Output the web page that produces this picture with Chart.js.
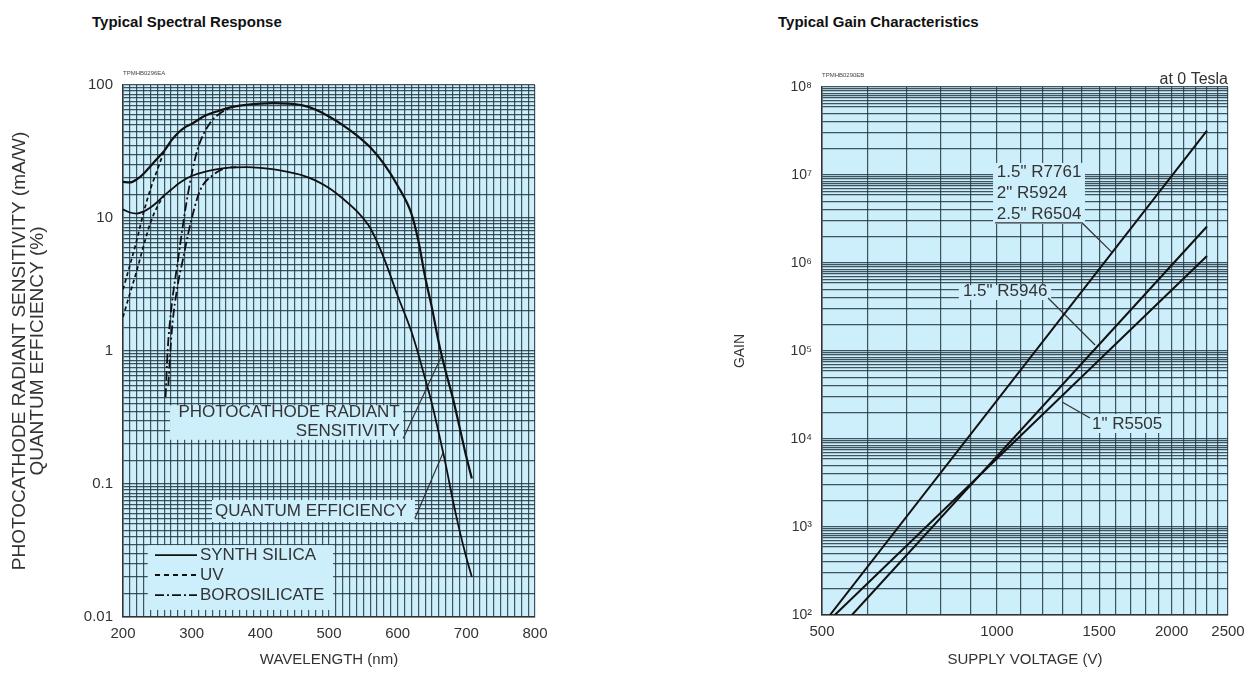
<!DOCTYPE html>
<html>
<head>
<meta charset="utf-8">
<script src="https://cdn.jsdelivr.net/npm/chart.js@4.4.1/dist/chart.umd.min.js"></script>
<style>
  html, body { margin: 0; padding: 0; background: #fff; }
  #wrap { position: relative; width: 1260px; height: 696px; font-family: "Liberation Sans", Arial, sans-serif; }
  .title { position: absolute; top: 13px; font-weight: bold; font-size: 15px; color: #111; }
  canvas { position: absolute; top: 0; }
</style>
</head>
<body>
<div id="wrap">
  <div class="title" style="left:92px">Typical Spectral Response</div>
  <div class="title" style="left:778px">Typical Gain Characteristics</div>
  <canvas id="spectral" width="630" height="696" style="left:0"></canvas>
  <canvas id="gain" width="630" height="696" style="left:630px"></canvas>
</div>
<script>
// ---- Typical Spectral Response (wavelength in nm) ----
const silicaNm  = [200,210,220,230,240,250,260,270,280,290,300,320,340,360,380,400,420,440,460,480,500,520,540,560,580,600,620,630,640,650,660,670,680,690,700,708];
const silicaRad = [18.7,18.5,19.5,21.5,24.5,28,32,38,43.5,48,51,59,64,68.5,71,72.5,73,72.5,70.5,65.5,58,50,42,34,25.5,17.5,10.8,6.8,3.6,2.1,1.15,0.7,0.45,0.27,0.16,0.11];
const silicaQE  = [11.6,11.0,10.8,11.2,12.0,13.2,14.8,16.3,18.0,19.5,20.7,22.3,23.4,24.0,24.1,23.8,23.2,22.2,21.0,19.2,16.8,14.0,11.3,8.4,5.0,2.6,1.4,0.95,0.62,0.4,0.24,0.14,0.077,0.045,0.028,0.02];

const uvNm  = [200,210,220,230,240,250,260];
const uvRad = [2.9,4.4,6.8,11,16.5,23,32];
const uvQE  = [1.8,2.7,4.0,6.2,9.2,12.2,14.8];

const boroRadNm = [262,265,270,280,293,308,327,341,355];
const boroRad   = [0.45,1.0,2.0,4.8,13.6,32,52,61,67];
const boroQENm  = [266,271,280,287,297,312,331,351,365];
const boroQE    = [0.55,1.4,3.2,4.8,8.5,16,21,23.8,24.1];

const sensTicks  = [0.01, 0.1, 1, 10, 100];
const sensLabels = ['0.01', '0.1', '1', '10', '100'];
const waveLabels = [200, 300, 400, 500, 600, 700, 800];

// ---- Typical Gain Characteristics (supply voltage in V) ----
const r7761V = [516, 2300];
const r7761G = [100, 3.2e7];
const r5946V = [563, 2300];
const r5946G = [100, 2.6e6];
const r5505V = [526, 2300];
const r5505G = [100, 1.2e6];

const gainTicks  = [1e2, 1e3, 1e4, 1e5, 1e6, 1e7, 1e8];
const gainLabels = ['10²', '10³', '10⁴', '10⁵', '10⁶', '10⁷', '10⁸'];
const voltLabels = [500, 1000, 1500, 2000, 2500];

Chart.defaults.font.family = '"Liberation Sans", Arial, sans-serif';
Chart.defaults.color = '#333';

const INK = '#111';
const GRID = 'rgba(35,55,65,0.85)';
const PAPER = '#cdeefb';

function pairs(xs, ys) {
    return xs.map((x, i) => ({x: x, y: ys[i]}));
}

// log paper lines: each multiplier in every decade between lo and hi
function logGrid(lo, hi, steps) {
    let out = [];
    for (let e = Math.round(Math.log10(lo)); e < Math.round(Math.log10(hi)); e++) {
        steps.forEach(m => out.push(m * Math.pow(10, e)));
    }
    out.push(hi);
    return out;
}

function rangeGrid(lo, hi, step) {
    let out = [];
    for (let v = lo; v <= hi; v += step) out.push(v);
    return out;
}

function labelFor(v, vals, labels) {
    for (let i = 0; i < vals.length; i++) {
        if (Math.abs(v - vals[i]) / vals[i] < 1e-6) return labels[i];
    }
    return '';
}

const plotBg = {
    id: 'plotBg',
    beforeDraw(chart, args, opts) {
        const {ctx, chartArea: a} = chart;
        ctx.save();
        ctx.fillStyle = opts.color;
        ctx.fillRect(a.left, a.top, a.right - a.left, a.bottom - a.top);
        ctx.restore();
    }
};

// text labels with a light box and leader line, placed in data units
const callouts = {
    id: 'callouts',
    beforeDatasetsDraw(chart, args, opts) {
        const {ctx} = chart;
        const sx = chart.scales.x, sy = chart.scales.y;
        ctx.save();
        ctx.font = opts.font;
        (opts.items || []).forEach(it => {
            const x0 = sx.getPixelForValue(it.box[0]), x1 = sx.getPixelForValue(it.box[1]);
            const y0 = sy.getPixelForValue(it.box[2]), y1 = sy.getPixelForValue(it.box[3]);
            ctx.fillStyle = opts.fill;
            ctx.fillRect(x0, y0, x1 - x0, y1 - y0);
            if (it.path) {
                ctx.beginPath();
                it.path.forEach((p, i) => {
                    const px = sx.getPixelForValue(p[0]), py = sy.getPixelForValue(p[1]);
                    if (i === 0) ctx.moveTo(px, py); else ctx.lineTo(px, py);
                });
                ctx.strokeStyle = '#333';
                ctx.lineWidth = 1.2;
                ctx.stroke();
            }
            ctx.fillStyle = '#333';
            ctx.textAlign = it.align || 'left';
            ctx.textBaseline = 'middle';
            it.lines.forEach((t, i) => {
                ctx.fillText(t, sx.getPixelForValue(it.at[0]), sy.getPixelForValue(it.at[1][i]));
            });
        });
        ctx.restore();
    }
};

// line-style key drawn inside the plot
const keyBox = {
    id: 'keyBox',
    beforeDatasetsDraw(chart, args, opts) {
        if (!opts.rows) return;
        const {ctx} = chart;
        const sx = chart.scales.x, sy = chart.scales.y;
        ctx.save();
        const x0 = sx.getPixelForValue(opts.box[0]), x1 = sx.getPixelForValue(opts.box[1]);
        const y0 = sy.getPixelForValue(opts.box[2]), y1 = sy.getPixelForValue(opts.box[3]);
        ctx.fillStyle = opts.fill;
        ctx.fillRect(x0, y0, x1 - x0, y1 - y0);
        ctx.font = opts.font;
        ctx.textBaseline = 'middle';
        opts.rows.forEach(r => {
            const py = sy.getPixelForValue(r.y);
            ctx.beginPath();
            ctx.setLineDash(r.dash);
            ctx.moveTo(sx.getPixelForValue(opts.sample[0]), py);
            ctx.lineTo(sx.getPixelForValue(opts.sample[1]), py);
            ctx.strokeStyle = INK;
            ctx.lineWidth = 1.8;
            ctx.stroke();
            ctx.setLineDash([]);
            ctx.fillStyle = '#333';
            ctx.fillText(r.label, sx.getPixelForValue(opts.textX), py);
        });
        ctx.restore();
    }
};

// small notes round the plot frame
const frameNotes = {
    id: 'frameNotes',
    afterDraw(chart, args, opts) {
        const {ctx, chartArea: a} = chart;
        ctx.save();
        ctx.fillStyle = '#444';
        ctx.textBaseline = 'alphabetic';
        ctx.font = '6px "Liberation Sans", Arial, sans-serif';
        ctx.textAlign = 'left';
        ctx.fillText(opts.code, a.left, a.top - 10);
        if (opts.note) {
            ctx.font = '16px "Liberation Sans", Arial, sans-serif';
            ctx.textAlign = 'right';
            ctx.fillStyle = '#333';
            ctx.fillText(opts.note, a.right, a.top - 3);
        }
        ctx.restore();
    }
};

const fineSteps = [1, 1.5, 2, 2.5, 3, 3.5, 4, 4.5, 5, 5.5, 6, 6.5, 7, 7.5, 8, 8.5, 9, 9.5];
const gainSteps = [1, 2, 3, 4, 5, 6, 6.5, 7, 7.5, 8, 8.5, 9, 9.5];

function lineSet(label, data, width, dash, smooth) {
    return {
        label: label,
        data: data,
        borderColor: INK,
        borderWidth: width,
        borderDash: dash,
        pointRadius: 0,
        fill: false,
        tension: 0,
        cubicInterpolationMode: smooth ? 'monotone' : 'default'
    };
}

new Chart(document.getElementById('spectral'), {
    type: 'line',
    data: {
        datasets: [
            lineSet('Synth silica radiant sensitivity', pairs(silicaNm, silicaRad), 2.2, [], true),
            lineSet('Synth silica quantum efficiency', pairs(silicaNm, silicaQE), 1.8, [], true),
            lineSet('UV radiant sensitivity', pairs(uvNm, uvRad), 1.7, [4, 3], true),
            lineSet('UV quantum efficiency', pairs(uvNm, uvQE), 1.7, [4, 3], true),
            lineSet('Borosilicate radiant sensitivity', pairs(boroRadNm, boroRad), 1.8, [9, 3, 2, 3], true),
            lineSet('Borosilicate quantum efficiency', pairs(boroQENm, boroQE), 1.8, [9, 3, 2, 3], true)
        ]
    },
    options: {
        responsive: false,
        animation: false,
        layout: { padding: { left: 0, right: 95, top: 85, bottom: 0 } },
        scales: {
            x: {
                type: 'linear',
                min: 200,
                max: 800,
                afterFit: s => { s.height = 79; },
                afterBuildTicks: s => { s.ticks = rangeGrid(200, 800, 10).map(v => ({value: v})); },
                grid: { color: GRID, lineWidth: 1.2, drawTicks: false },
                border: { color: '#333', width: 1.5 },
                ticks: {
                    autoSkip: false,
                    maxRotation: 0,
                    padding: 8,
                    font: { size: 15 },
                    callback: v => waveLabels.includes(v) ? String(v) : ''
                },
                title: {
                    display: true,
                    text: 'WAVELENGTH (nm)',
                    font: { size: 15 },
                    padding: { top: 0, bottom: 27 }
                }
            },
            y: {
                type: 'logarithmic',
                min: 0.01,
                max: 100,
                afterFit: s => { s.width = 123; },
                afterBuildTicks: s => { s.ticks = logGrid(0.01, 100, fineSteps).map(v => ({value: v})); },
                grid: { color: GRID, lineWidth: 1.2, drawTicks: false },
                border: { color: '#333', width: 1.5 },
                ticks: {
                    autoSkip: false,
                    padding: 10,
                    font: { size: 15 },
                    callback: v => labelFor(v, sensTicks, sensLabels)
                },
                title: {
                    display: true,
                    text: ['PHOTOCATHODE RADIANT SENSITIVITY (mA/W)', 'QUANTUM EFFICIENCY (%)'],
                    font: { size: 19, lineHeight: 0.95 },
                    padding: { top: 10.5, bottom: 0 }
                }
            }
        },
        plugins: {
            legend: { display: false },
            tooltip: { enabled: false },
            plotBg: { color: PAPER },
            frameNotes: { code: 'TPMHB0296EA' },
            callouts: {
                font: '17px "Liberation Sans", Arial, sans-serif',
                fill: PAPER,
                items: [
                    {
                        lines: ['PHOTOCATHODE RADIANT', 'SENSITIVITY'],
                        align: 'right',
                        at: [603, [0.347, 0.25]],
                        box: [268.5, 608, 0.39, 0.215],
                        path: [[608, 0.22], [664.5, 0.93]]
                    },
                    {
                        lines: ['QUANTUM EFFICIENCY'],
                        align: 'left',
                        at: [334, [0.0627]],
                        box: [329.6, 625.2, 0.0758, 0.0518],
                        path: [[625, 0.055], [666, 0.171]]
                    }
                ]
            },
            keyBox: {
                font: '17px "Liberation Sans", Arial, sans-serif',
                fill: PAPER,
                box: [236, 506, 0.0347, 0.0113],
                sample: [246.6, 307.8],
                textX: 312,
                rows: [
                    { label: 'SYNTH SILICA', y: 0.0292, dash: [] },
                    { label: 'UV', y: 0.0207, dash: [5, 4] },
                    { label: 'BOROSILICATE', y: 0.0146, dash: [9, 3, 2, 3] }
                ]
            }
        }
    },
    plugins: [plotBg, callouts, keyBox, frameNotes]
});

new Chart(document.getElementById('gain'), {
    type: 'line',
    data: {
        datasets: [
            lineSet('1.5" R7761 / 2" R5924 / 2.5" R6504', pairs(r7761V, r7761G), 2, [], false),
            lineSet('1.5" R5946', pairs(r5946V, r5946G), 2, [], false),
            lineSet('1" R5505', pairs(r5505V, r5505G), 2, [], false)
        ]
    },
    options: {
        responsive: false,
        animation: false,
        layout: { padding: { left: 0, right: 32, top: 87, bottom: 0 } },
        scales: {
            x: {
                type: 'logarithmic',
                min: 500,
                max: 2500,
                afterFit: s => { s.height = 81; },
                afterBuildTicks: s => { s.ticks = rangeGrid(500, 2500, 100).map(v => ({value: v})); },
                grid: { color: GRID, lineWidth: 1.2, drawTicks: false },
                border: { color: '#333', width: 1.5 },
                ticks: {
                    autoSkip: false,
                    maxRotation: 0,
                    padding: 8,
                    font: { size: 15 },
                    callback: v => voltLabels.includes(v) ? String(v) : ''
                },
                title: {
                    display: true,
                    text: 'SUPPLY VOLTAGE (V)',
                    font: { size: 15 },
                    padding: { top: 0, bottom: 27 }
                }
            },
            y: {
                type: 'logarithmic',
                min: 100,
                max: 1e8,
                afterFit: s => { s.width = 192; },
                afterBuildTicks: s => { s.ticks = logGrid(100, 1e8, gainSteps).map(v => ({value: v})); },
                grid: { color: GRID, lineWidth: 1.2, drawTicks: false },
                border: { color: '#333', width: 1.5 },
                ticks: {
                    autoSkip: false,
                    padding: 10,
                    font: { size: 14 },
                    callback: v => labelFor(v, gainTicks, gainLabels)
                },
                title: {
                    display: true,
                    text: 'GAIN',
                    font: { size: 14 },
                    padding: { top: 101.5, bottom: 0 }
                }
            }
        },
        plugins: {
            legend: { display: false },
            tooltip: { enabled: false },
            plotBg: { color: PAPER },
            frameNotes: { code: 'TPMHB0290EB', note: 'at 0 Tesla' },
            callouts: {
                font: '17px "Liberation Sans", Arial, sans-serif',
                fill: PAPER,
                items: [
                    {
                        lines: ['1.5" R7761', '2" R5924', '2.5" R6504'],
                        align: 'left',
                        at: [1000, [1.08e7, 6.24e6, 3.6e6]],
                        box: [985, 1418, 1.37e7, 2.77e6],
                        path: [[993, 2.85e6], [1402, 2.85e6], [1577, 1.33e6]]
                    },
                    {
                        lines: ['1.5" R5946'],
                        align: 'left',
                        at: [874, [4.8e5]],
                        box: [860, 1240, 5.6e5, 3.8e5],
                        path: [[1225, 4.0e5], [1476, 1.17e5]]
                    },
                    {
                        lines: ['1" R5505'],
                        align: 'left',
                        at: [1458, [1.48e4]],
                        box: [1435, 1950, 1.92e4, 1.17e4],
                        path: [[1447, 1.73e4], [1295, 2.63e4]]
                    }
                ]
            }
        }
    },
    plugins: [plotBg, callouts, frameNotes]
});
</script>
</body>
</html>
